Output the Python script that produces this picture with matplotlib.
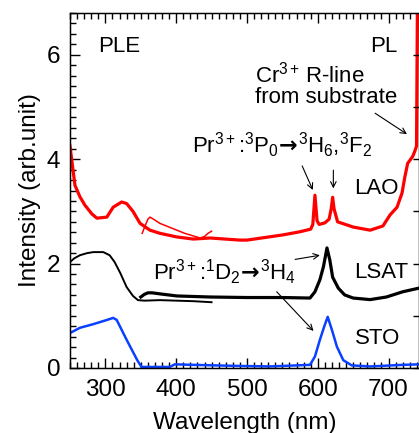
import matplotlib
matplotlib.use("Agg")
import matplotlib.pyplot as plt
from matplotlib.ticker import MultipleLocator

plt.rcParams['font.family'] = ['Liberation Sans', 'DejaVu Sans']
plt.rcParams['mathtext.fontset'] = 'custom'
plt.rcParams['mathtext.rm'] = 'Liberation Sans'
plt.rcParams['mathtext.it'] = 'Liberation Sans:italic'
plt.rcParams['mathtext.bf'] = 'DejaVu Sans:bold'
plt.rcParams['mathtext.default'] = 'regular'

# LAO: PLE + PL trace, and the second PLE scan (thin)
lao_wl = [250, 257, 264, 271, 281, 288, 302, 311, 323, 330, 339, 349, 363, 377,
          401, 424, 448, 490, 500, 551, 575, 590, 593, 596, 599, 602, 610, 616,
          619, 621, 623, 628, 650, 674, 692, 702, 712, 719, 723, 727, 734, 737,
          739.5, 741]
lao_int = [4.25, 3.5, 3.28, 3.12, 2.95, 2.87, 2.89, 3.08, 3.18, 3.15, 3.0, 2.77,
           2.64, 2.58, 2.51, 2.47, 2.49, 2.45, 2.45, 2.55, 2.61, 2.66, 2.75, 3.31,
           2.82, 2.75, 2.78, 2.85, 3.05, 3.27, 3.05, 2.80, 2.70, 2.64, 2.72, 2.93,
           3.08, 3.35, 3.66, 3.92, 4.05, 4.15, 4.25, 7.5]
lao_ple_wl = [352, 356, 360, 363, 368, 377, 390, 401, 412, 424, 434, 440, 445, 450]
lao_ple_int = [2.58, 2.72, 2.85, 2.89, 2.85, 2.77, 2.70, 2.64, 2.58, 2.53, 2.49,
               2.52, 2.58, 2.62]

# LSAT
lsat_ple_wl = [250, 256, 264, 274, 283, 297, 306, 313, 321, 330, 339, 346, 355,
               377, 400, 424, 450]
lsat_ple_int = [2.03, 2.10, 2.16, 2.20, 2.22, 2.22, 2.16, 2.03, 1.82, 1.55, 1.38,
                1.30, 1.29, 1.30, 1.29, 1.28, 1.26]
lsat_pl_wl = [350, 355, 360, 366, 377, 401, 448, 500, 550, 589, 596, 603, 608,
              613, 617, 621, 629, 638, 650, 674, 697, 720, 743]
lsat_pl_int = [1.36, 1.41, 1.44, 1.44, 1.42, 1.38, 1.36, 1.35, 1.35, 1.34, 1.46,
               1.69, 1.94, 2.30, 2.07, 1.74, 1.53, 1.40, 1.34, 1.31, 1.36, 1.46, 1.53]

# STO
sto_wl = [250, 264, 283, 302, 311, 316, 330, 345, 351, 370, 391, 398, 424, 486,
          532, 589, 596, 603, 609, 614, 620, 627, 636, 648, 674, 720, 743]
sto_int = [0.67, 0.77, 0.84, 0.92, 0.96, 0.92, 0.54, 0.15, 0.02, 0.02, 0.02, 0.07,
           0.06, 0.04, 0.03, 0.06, 0.22, 0.54, 0.79, 0.98, 0.73, 0.41, 0.15, 0.05,
           0.03, 0.06, 0.07]

fig = plt.figure(figsize=(4.19, 4.33), dpi=100)
ax = fig.add_axes([70/419, 65/433, 349/419, 355/433])

ax.plot(lao_wl, lao_int, color='red', lw=2.3)
ax.plot(lao_ple_wl, lao_ple_int, color='red', lw=1.1)
ax.plot(lsat_ple_wl, lsat_ple_int, color='black', lw=1.4)
ax.plot(lsat_pl_wl, lsat_pl_int, color='black', lw=2.3)
ax.plot(sto_wl, sto_int, color='#0a40ff', lw=1.8)

ax.set_xlim(250, 743)
ax.set_ylim(0, 6.8)
ax.xaxis.set_major_locator(MultipleLocator(100))
ax.xaxis.set_minor_locator(MultipleLocator(10))
ax.yaxis.set_major_locator(MultipleLocator(2))
ax.yaxis.set_minor_locator(MultipleLocator(0.2))
ax.tick_params(which='both', direction='in', top=True, right=False,
               labelsize=17.5, width=1.0)
ax.tick_params(which='major', length=7.2)
ax.tick_params(axis='x', which='major', pad=8)
ax.tick_params(axis='y', which='major', pad=7)
ax.tick_params(which='minor', length=4)
for s in ax.spines.values():
    s.set_linewidth(1.0)

# right side: plain ticks every 1 unit
ax2 = ax.twinx()
ax2.set_ylim(0, 6.8)
ax2.yaxis.set_major_locator(MultipleLocator(1))
ax2.tick_params(direction='in', length=4, width=1.0, labelright=False)

ax.set_xlabel('Wavelength (nm)', fontsize=17.5, labelpad=8)
ax.set_ylabel('Intensity (arb.unit)', fontsize=17.5, labelpad=4)

tfs = 16
arr = r'$\!\mathbf{\rightarrow}\!$'
ax.text(290, 6.16, 'PLE', fontsize=tfs, va='center')
ax.text(674, 6.16, 'PL', fontsize=tfs, va='center')
ax.text(511, 5.42, r'Cr$^{3+}\,$R-line' + '\nfrom substrate', fontsize=tfs,
        va='center', linespacing=1.0)
ax.text(422, 4.12, 'Pr$^{3+}$:$^{3}$P$_{0}$' + arr + '$^{3}$H$_{6}$,$^{3}$F$_{2}$',
        fontsize=tfs, va='baseline')
ax.text(367, 1.69, 'Pr$^{3+}$:$^{1}$D$_{2}$' + arr + '$^{3}$H$_{4}$',
        fontsize=tfs, va='baseline')
ax.text(652, 3.44, 'LAO', fontsize=tfs, va='center')
ax.text(652, 1.83, 'LSAT', fontsize=tfs, va='center')
ax.text(652, 0.56, 'STO', fontsize=tfs, va='center')

arrow = dict(arrowstyle='->', lw=0.8, color='black', shrinkA=0, shrinkB=0)
ax.annotate('', xy=(726, 4.48), xytext=(681, 4.88), arrowprops=arrow)
ax.annotate('', xy=(593, 3.41), xytext=(578, 3.87), arrowprops=arrow)
ax.annotate('', xy=(622, 3.44), xytext=(622, 3.79), arrowprops=arrow)
ax.annotate('', xy=(603, 2.16), xytext=(568, 2.08), arrowprops=arrow)
ax.annotate('', xy=(594, 0.71), xytext=(542, 1.46), arrowprops=arrow)

fig.savefig('out.png', dpi=100)
